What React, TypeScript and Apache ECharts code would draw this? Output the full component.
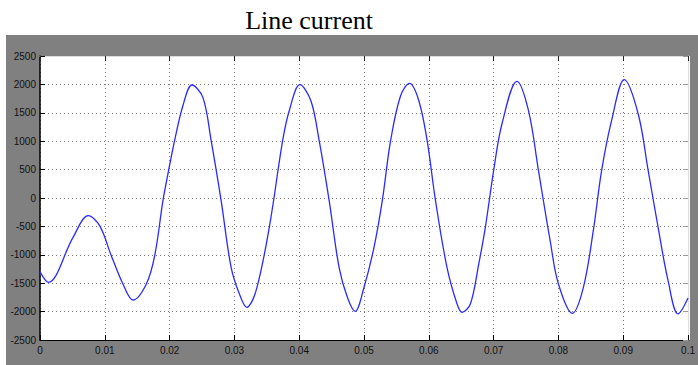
import React, { useEffect, useRef } from "react";
import * as echarts from "echarts";

const titleText = "Line current";
const xTicks = [0, 0.01, 0.02, 0.03, 0.04, 0.05, 0.06, 0.07, 0.08, 0.09, 0.1];
const yTicks = [-2500, -2000, -1500, -1000, -500, 0, 500, 1000, 1500, 2000, 2500];

const timeValues = [
  0, 0.00128, 0.0051, 0.00744, 0.0092, 0.011, 0.0128, 0.01436, 0.01641, 0.0177,
  0.01897, 0.01974, 0.02077, 0.02205, 0.02344, 0.02513, 0.02641, 0.02795, 0.02949, 0.03077,
  0.0319, 0.03334, 0.03538, 0.03744, 0.03846, 0.0401, 0.0418, 0.04308, 0.04462, 0.04615,
  0.04743, 0.04862, 0.05, 0.05154, 0.05282, 0.0541, 0.05564, 0.05703, 0.05846, 0.05974,
  0.06103, 0.0628, 0.06436, 0.06513, 0.06641, 0.0677, 0.06872, 0.07, 0.07128, 0.07359,
  0.07538, 0.07692, 0.07872, 0.08, 0.08215, 0.08385, 0.08538, 0.08666, 0.0882, 0.09015,
  0.09231, 0.09385, 0.09538, 0.09692, 0.09846, 0.1,
];
const currentValues = [
  -1300, -1484, -692, -311, -487, -1015, -1514, -1796, -1514, -1015,
  -47, 423, 1009, 1625, 1989, 1772, 1009, -47, -1220, -1690,
  -1925, -1632, -516, 1009, 1537, 1995, 1713, 1009, -47, -1220,
  -1749, -1995, -1572, -868, -47, 1009, 1801, 2019, 1713, 1009,
  -47, -1220, -1866, -2012, -1866, -1162, -516, 481, 1303, 2054,
  1537, 481, -752, -1514, -2030, -1572, -575, 481, 1361, 2085,
  1479, 481, -516, -1456, -2040, -1760,
];

export default function App() {
  const ref = useRef<HTMLDivElement>(null);
  useEffect(() => {
    if (!ref.current) return;
    const chart = echarts.init(ref.current, undefined, { renderer: "svg" });
    const data = timeValues.map((t, i) => [t, currentValues[i]]);
    const labelStyle = { color: "#111", fontSize: 10, fontFamily: "Liberation Sans, Arial, sans-serif" };
    const grid = { left: 40, right: 8, top: 56, bottom: 25 };
    chart.setOption({
      animation: false,
      backgroundColor: "#ffffff",
      graphic: [
        { type: "rect", shape: { x: 6, y: 35, width: 692, height: 330 }, style: { fill: "#808080" }, z: -10 },
        { type: "rect", shape: { x: 40, y: 56, width: 650, height: 284 }, style: { fill: "#ffffff" }, z: -9 },
      ],
      title: {
        text: titleText,
        left: 304,
        top: 2,
        textAlign: "center",
        textStyle: { fontFamily: "Liberation Serif, Times New Roman, serif", fontSize: 26, fontWeight: "normal", color: "#000" },
      },
      grid,
      xAxis: [
        {
          type: "value",
          min: 0,
          max: 0.1,
          interval: 0.01,
          axisLine: { show: true, onZero: false, lineStyle: { color: "#000", width: 1 } },
          axisTick: { show: true, inside: true, length: 5, lineStyle: { color: "#000" } },
          axisLabel: { ...labelStyle, margin: 5, formatter: (v: number) => { const k = xTicks.find((t) => Math.abs(t - v) < 1e-9); return k === undefined ? "" : String(+k.toFixed(2)); } },
          splitLine: { show: true, lineStyle: { color: "#777", type: [1, 3], width: 1 } },
        },
        {
          type: "value",
          position: "top",
          min: 0,
          max: 0.1,
          interval: 0.01,
          axisLine: { show: true, onZero: false, lineStyle: { color: "#ddd", width: 1 } },
          axisTick: { show: true, inside: true, length: 5, lineStyle: { color: "#222" } },
          axisLabel: { show: false },
          splitLine: { show: false },
        },
      ],
      yAxis: [
        {
          type: "value",
          min: -2500,
          max: 2500,
          interval: 500,
          axisLine: { show: true, onZero: false, lineStyle: { color: "#000", width: 1.5 } },
          axisTick: { show: true, inside: true, length: 5, lineStyle: { color: "#000" } },
          axisLabel: { ...labelStyle, margin: 4, formatter: (v: number) => (yTicks.includes(v) ? String(v) : "") },
          splitLine: { show: true, lineStyle: { color: "#777", type: [1, 3], width: 1 } },
        },
        {
          type: "value",
          position: "right",
          min: -2500,
          max: 2500,
          interval: 500,
          axisLine: { show: true, onZero: false, lineStyle: { color: "#ddd", width: 1 } },
          axisTick: { show: true, inside: true, length: 5, lineStyle: { color: "#999" } },
          axisLabel: { show: false },
          splitLine: { show: false },
        },
      ],
      series: [
        {
          type: "line",
          data,
          smooth: 0.35,
          symbol: "none",
          lineStyle: { color: "#2a2aff", width: 1.3 },
          xAxisIndex: 0,
          yAxisIndex: 0,
        },
      ],
    });
    return () => chart.dispose();
  }, []);
  return <div ref={ref} style={{ position: "absolute", left: 0, top: 0, width: 698, height: 365 }} />;
}
